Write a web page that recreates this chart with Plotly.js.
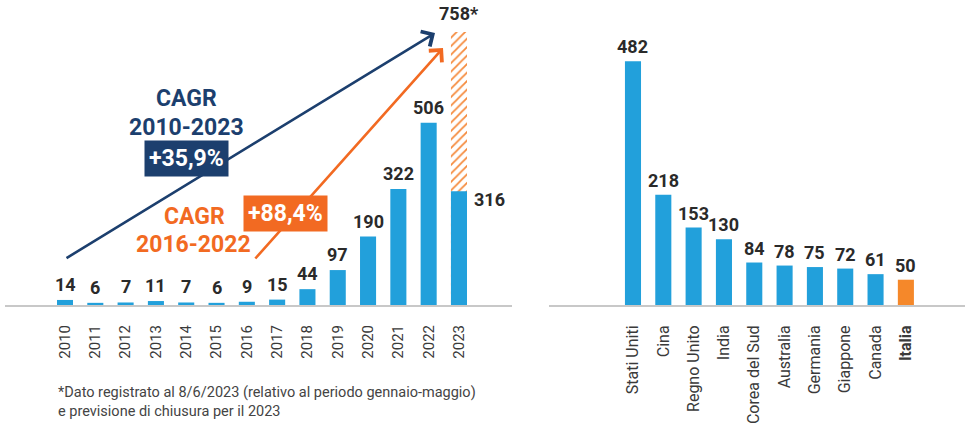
<!DOCTYPE html>
<html>
<head>
<meta charset="utf-8">
<script src="https://cdn.plot.ly/plotly-3.0.1.min.js"></script>
<style>
  html, body { margin: 0; padding: 0; background: #ffffff; }
  #chart { width: 965px; height: 424px; }
</style>
</head>
<body>
<div id="chart"></div>
<script>
// ---- DATA ----
const years = ['2010','2011','2012','2013','2014','2015','2016','2017','2018','2019','2020','2021','2022','2023'];
const yearValues = [14, 6, 7, 11, 7, 6, 9, 15, 44, 97, 190, 322, 506, 316];
const forecastYear = '2023';
const forecastValue = 758;
const forecastLabel = '758*';

const countries = ['Stati Uniti','Cina','Regno Unito','India','Corea del Sud','Australia','Germania','Giappone','Canada','Italia'];
const countryValues = [482, 218, 153, 130, 84, 78, 75, 72, 61, 50];
const highlightCountry = 'Italia';

const cagrLong = {title: 'CAGR', period: '2010-2023', value: '+35,9%'};
const cagrShort = {title: 'CAGR', period: '2016-2022', value: '+88,4%'};
const footnoteLines = ['*Dato registrato al 8/6/2023 (relativo al periodo gennaio-maggio)', 'e previsione di chiusura per il 2023'];

// ---- STYLE ----
const W = 965, H = 424;
const BLUE = '#22a0db', ORANGE_BAR = '#f5882a', HATCH = '#f58a3c';
const NAVY = '#1c3f6e', ORANGE = '#f26a22';
const LABEL = '#2a2a2a', TICK = '#3a3a3a', AXIS = '#c8c8c8';
const FONT = 'Roboto, "Open Sans", sans-serif';
const px2x = p => p / W;
const px2y = p => 1 - p / H;

const traces = [
  { type: 'bar', x: [forecastYear], y: [forecastValue], xaxis: 'x', yaxis: 'y', width: 0.53,
    marker: { color: '#ffffff', line: {width: 0},
      pattern: { shape: '/', fgcolor: HATCH, bgcolor: '#ffffff', size: 6, solidity: 0.3, fillmode: 'replace' } },
    hoverinfo: 'skip' },
  { type: 'bar', x: years, y: yearValues, xaxis: 'x', yaxis: 'y', width: 0.53,
    marker: { color: BLUE, line: {width: 0} } },
  { type: 'bar', x: countries, y: countryValues, xaxis: 'x2', yaxis: 'y2', width: 0.53,
    marker: { color: countries.map(c => c === highlightCountry ? ORANGE_BAR : BLUE), line: {width: 0} } }
];

const valueFont = { family: FONT, size: 18, color: LABEL, weight: 700 };
const annotations = [];
const fi = years.indexOf(forecastYear);
years.forEach((yr, i) => {
  if (i === fi) return;
  annotations.push({ x: i, y: yearValues[i], xref: 'x', yref: 'y', text: String(yearValues[i]),
    showarrow: false, xanchor: 'center', yanchor: 'bottom', yshift: 3, font: valueFont });
});
annotations.push({ x: fi, y: yearValues[fi], xref: 'x', yref: 'y', text: String(yearValues[fi]),
  showarrow: false, xanchor: 'center', yanchor: 'middle', xshift: 31, yshift: -8, font: valueFont });
annotations.push({ x: fi, y: forecastValue, xref: 'x', yref: 'y', text: forecastLabel,
  showarrow: false, xanchor: 'center', yanchor: 'bottom', yshift: 6, font: valueFont });
countries.forEach((c, i) => {
  annotations.push({ x: i, y: countryValues[i], xref: 'x2', yref: 'y2',
    text: String(countryValues[i]),
    showarrow: false, xanchor: 'center', yanchor: 'bottom', yshift: 2, font: valueFont });
});

// arrows
annotations.push({ xref: 'paper', yref: 'paper', x: px2x(435), y: px2y(33), ax: 65 - 435, ay: 259 - 33,
  axref: 'pixel', ayref: 'pixel', text: '', showarrow: true, arrowhead: 4, arrowsize: 1.3, arrowwidth: 2.6,
  arrowcolor: NAVY, standoff: 0 });
annotations.push({ xref: 'paper', yref: 'paper', x: px2x(443), y: px2y(48), ax: 254 - 443, ay: 260 - 48,
  axref: 'pixel', ayref: 'pixel', text: '', showarrow: true, arrowhead: 4, arrowsize: 1.3, arrowwidth: 2.6,
  arrowcolor: ORANGE, standoff: 0 });

const cagrFont = (col) => ({ family: FONT, size: 23, color: col, weight: 700 });
const txt = (x, y, text, font, extra) => Object.assign({ xref: 'paper', yref: 'paper', x: px2x(x), y: px2y(y),
  xanchor: 'center', yanchor: 'middle', text: text, showarrow: false, font: font }, extra || {});
annotations.push(txt(186, 98, cagrLong.title, cagrFont(NAVY)));
annotations.push(txt(186, 127, cagrLong.period, cagrFont(NAVY)));
annotations.push(txt(186, 158, cagrLong.value, { family: FONT, size: 23, color: '#ffffff', weight: 700 },
  { bgcolor: NAVY, borderpad: 4 }));
annotations.push(txt(194, 216, cagrShort.title, cagrFont(ORANGE)));
annotations.push(txt(193, 244, cagrShort.period, cagrFont(ORANGE)));
annotations.push(txt(285, 213, cagrShort.value, { family: FONT, size: 23, color: '#ffffff', weight: 700 },
  { bgcolor: ORANGE, borderpad: 4 }));

annotations.push({ xref: 'paper', yref: 'paper', x: px2x(56), y: px2y(382), xanchor: 'left', yanchor: 'top', align: 'left',
  text: footnoteLines.join('<br>'), showarrow: false, font: { family: FONT, size: 14.5, color: '#444444' } });

const countryTicks = countries.map(c => c === highlightCountry ? '<b>' + c + '</b>' : c);

const layout = {
  width: W, height: H,
  margin: { l: 0, r: 0, t: 0, b: 0 },
  paper_bgcolor: '#ffffff', plot_bgcolor: 'rgba(0,0,0,0)',
  showlegend: false, barmode: 'overlay',
  font: { family: FONT },
  xaxis: { domain: [px2x(5), px2x(512)], anchor: 'y', type: 'category', categoryorder: 'array', categoryarray: years,
    range: [-1.98, 14.75], showline: true, linecolor: AXIS, linewidth: 2, showgrid: false, zeroline: false,
    tickmode: 'array', tickvals: years, ticktext: years, tickangle: -90,
    ticks: 'outside', ticklen: 12, tickcolor: 'rgba(0,0,0,0)', tickfont: { family: FONT, size: 15, color: TICK }, automargin: false },
  yaxis: { domain: [px2y(305), 1], anchor: 'x', range: [0, 847], visible: false, fixedrange: true },
  xaxis2: { domain: [px2x(549), 1], anchor: 'y2', type: 'category', categoryorder: 'array', categoryarray: countries,
    range: [-2.77, 10.95], showline: true, linecolor: AXIS, linewidth: 2, showgrid: false, zeroline: false,
    tickmode: 'array', tickvals: countries, ticktext: countryTicks, tickangle: -90,
    ticks: 'outside', ticklen: 12, tickcolor: 'rgba(0,0,0,0)', tickfont: { family: FONT, size: 16, color: TICK }, automargin: false },
  yaxis2: { domain: [px2y(305), 1], anchor: 'x2', range: [0, 603], visible: false, fixedrange: true },
  annotations: annotations
};

Plotly.newPlot('chart', traces, layout, { displayModeBar: false, staticPlot: true });
</script>
</body>
</html>
